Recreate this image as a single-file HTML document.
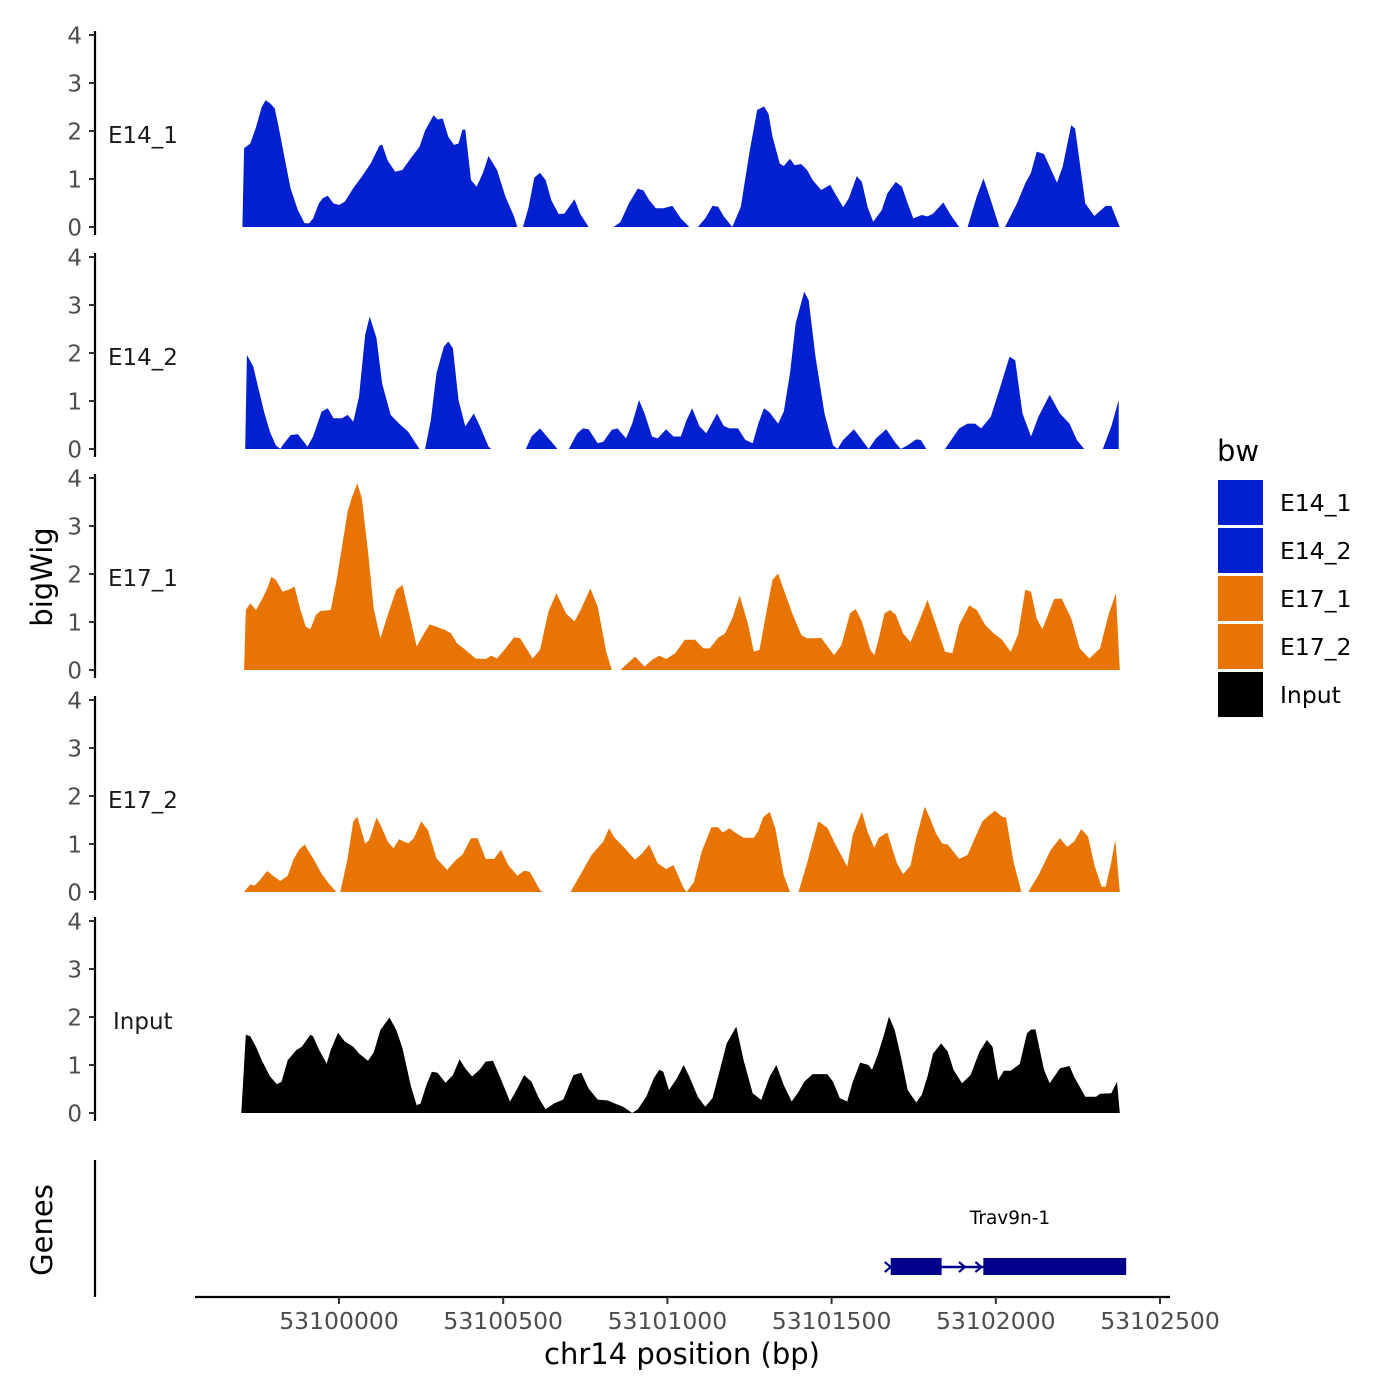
<!DOCTYPE html>
<html><head><meta charset="utf-8"><style>
html,body{margin:0;padding:0;background:#fff;}
svg{display:block;font-family:"DejaVu Sans","Liberation Sans",sans-serif;}
</style></head><body>
<svg id="chart" width="1400" height="1400" viewBox="0 0 1400 1400">
<rect x="0" y="0" width="1400" height="1400" fill="#fff"/>
<g id="tracks"></g>
<g id="genes"></g>
<g id="xaxis"></g>
<text x="52" y="577" transform="rotate(-90 52 577)" text-anchor="middle" font-size="29" fill="#000">bigWig</text>
<text x="52" y="1230" transform="rotate(-90 52 1230)" text-anchor="middle" font-size="29" fill="#000">Genes</text>
<text x="682" y="1364" text-anchor="middle" font-size="29" fill="#000">chr14 position (bp)</text>
<g id="legend"></g>
</svg>
<script>
// Region / positions: offsets in units of POS_UNIT_BP from REGION_START
const REGION_START = 53099668;
const POS_UNIT_BP = 1.7226;

const trackNames = ["E14_1","E14_2","E17_1","E17_2","Input"];
const trackColors = ["#0220CF","#0220CF","#E87503","#E87503","#000000"];
const yTicks = [0,1,2,3,4];
const xTickValues = [53100000,53100500,53101000,53101500,53102000,53102500];
const xTickLabels = ["53100000","53100500","53101000","53101500","53102000","53102500"];

const e14_1_pos = [22,25,36,46,56,63,71,79,86,96,107,120,132,140,147,157,164,173,183,193,203,218,233,249,264,269,279,292,305,320,335,345,360,367,376,386,396,404,411,416,426,436,447,457,472,487,502,508,null,518,528,538,548,558,568,581,591,609,619,634,null,678,690,705,721,731,741,753,766,782,797,812,null,827,840,853,863,873,888,903,919,932,944,952,959,972,979,990,998,1010,1020,1030,1045,1061,1071,1084,1094,1108,1117,1127,1137,1152,1162,1177,1188,1198,1208,1223,1233,1243,1261,1274,1289,null,1304,1320,1332,1345,1360,null,1370,1391,1406,1416,1426,1439,1462,1472,1487,1494,1512,1528,1548,1558,1573];
const e14_1_val = [0,1.64,1.74,2.08,2.5,2.64,2.58,2.47,2.09,1.47,0.81,0.35,0.08,0.08,0.18,0.49,0.6,0.65,0.49,0.46,0.53,0.81,1.05,1.33,1.69,1.72,1.38,1.15,1.19,1.44,1.67,2.01,2.33,2.24,2.26,1.88,1.71,1.74,2.03,2.03,0.98,0.84,1.12,1.48,1.19,0.63,0.22,0,null,0,0.42,1.03,1.13,0.98,0.56,0.27,0.28,0.58,0.28,0,null,0,0.1,0.49,0.8,0.76,0.56,0.39,0.39,0.44,0.18,0,null,0,0.18,0.44,0.42,0.22,0,0.42,1.61,2.44,2.51,2.36,1.88,1.32,1.27,1.42,1.29,1.31,1.19,0.98,0.77,0.88,0.67,0.41,0.6,1.06,0.94,0.42,0.11,0.35,0.7,0.94,0.84,0.49,0.18,0.25,0.22,0.28,0.51,0.25,0,null,0,0.63,1.01,0.56,0,null,0,0.49,0.91,1.13,1.57,1.52,0.92,1.26,2.12,2.05,0.49,0.23,0.44,0.44,0];

const e14_2_pos = [27,30,41,51,61,71,81,89,93,107,120,137,147,162,173,183,198,208,218,228,239,247,259,269,284,299,315,335,345,355,365,378,386,394,404,416,431,442,457,462,null,523,533,548,563,579,null,599,614,624,634,650,660,675,685,700,711,723,733,746,756,771,784,797,807,817,830,842,861,873,883,898,911,924,934,944,954,969,979,990,1000,1015,1023,1035,1051,1066,1074,1084,1103,1117,1129,1142,1160,1177,1186,1198,1213,1221,1231,null,1264,1289,1304,1317,1328,1345,1360,1378,1388,1401,1416,1429,1449,1467,1484,1497,1510,null,1543,1558,1571];
const e14_2_val = [0,1.96,1.72,1.23,0.74,0.35,0.08,0,0.08,0.29,0.31,0.05,0.26,0.78,0.85,0.64,0.64,0.71,0.57,1.09,2.38,2.76,2.31,1.37,0.71,0.53,0.36,0,0,0.6,1.58,2.13,2.24,2.1,1.02,0.47,0.74,0.47,0.05,0,null,0,0.26,0.43,0.22,0,null,0,0.33,0.43,0.41,0.12,0.15,0.4,0.43,0.22,0.53,1.02,0.74,0.26,0.22,0.41,0.26,0.26,0.6,0.85,0.47,0.33,0.74,0.48,0.43,0.43,0.19,0.12,0.53,0.85,0.76,0.53,0.78,1.58,2.62,3.28,3.1,1.92,0.74,0.08,0,0.19,0.41,0.19,0,0.22,0.41,0.12,0,0.08,0.2,0.19,0,null,0,0.43,0.53,0.53,0.43,0.67,1.23,1.92,1.85,0.74,0.26,0.67,1.13,0.74,0.53,0.19,0,null,0,0.47,1.02];

const e17_1_pos = [25,28,36,46,56,66,73,81,93,107,114,124,134,142,152,160,178,188,198,208,215,225,233,244,254,266,279,294,305,320,330,345,353,365,381,391,401,416,434,452,462,472,487,502,513,523,535,548,563,577,594,609,621,637,650,665,675,null,690,716,733,746,759,771,787,804,822,837,848,863,875,888,901,916,926,936,949,959,969,979,995,1010,1020,1035,1045,1068,1081,1096,1106,1117,1132,1139,1147,1157,1167,1177,1190,1203,1218,1233,1248,1264,1277,1289,1307,1320,1335,1350,1365,1380,1393,1406,1416,1426,1436,1446,1457,1470,1487,1502,1519,1538,1553,1566,1573];
const e17_1_val = [0,1.25,1.39,1.25,1.46,1.7,1.94,1.88,1.63,1.69,1.74,1.28,0.9,0.85,1.15,1.23,1.25,1.84,2.57,3.3,3.58,3.89,3.58,2.47,1.28,0.66,1.15,1.67,1.77,1.01,0.49,0.8,0.95,0.9,0.83,0.76,0.56,0.42,0.24,0.23,0.3,0.24,0.45,0.68,0.66,0.47,0.24,0.42,1.22,1.6,1.18,1.01,1.28,1.7,1.32,0.38,0,null,0,0.28,0.07,0.21,0.3,0.23,0.35,0.63,0.63,0.45,0.45,0.67,0.76,1.08,1.55,0.94,0.38,0.42,1.25,1.88,2.01,1.67,1.15,0.73,0.66,0.66,0.67,0.31,0.52,1.18,1.27,1.01,0.42,0.31,0.66,1.18,1.25,1.15,0.76,0.58,1.01,1.46,0.94,0.38,0.35,0.94,1.35,1.25,0.94,0.76,0.63,0.38,0.73,1.67,1.63,1.08,0.85,1.15,1.48,1.49,1.08,0.45,0.24,0.45,1.15,1.6,0];

const e17_2_pos = [25,36,43,51,66,76,89,102,112,122,132,147,162,175,188,null,195,208,218,225,239,246,259,266,279,289,299,315,325,338,350,365,384,398,411,426,438,452,467,479,492,508,520,530,548,553,null,602,619,639,660,670,680,698,716,729,741,756,771,784,802,807,820,834,851,863,871,883,893,908,926,934,942,954,964,979,990,null,1005,1020,1040,1056,1071,1091,1101,1117,1127,1139,1147,1162,1179,1190,1203,1213,1228,1238,1248,1259,1269,1289,1304,1314,1330,1342,1352,1365,1372,1385,1399,null,1411,1429,1451,1467,1480,1492,1505,1517,1528,1541,1548,1558,1565,1573];
const e17_2_val = [0,0.16,0.13,0.22,0.44,0.34,0.23,0.34,0.67,0.88,0.99,0.7,0.38,0.17,0,null,0,0.7,1.47,1.57,1.01,1.08,1.55,1.4,1.05,0.91,1.1,1.01,1.12,1.47,1.29,0.7,0.46,0.65,0.78,1.12,1.12,0.69,0.69,0.88,0.56,0.34,0.44,0.42,0.04,0,null,0,0.35,0.77,1.05,1.33,1.13,0.91,0.67,0.81,0.99,0.6,0.48,0.56,0.08,0,0.2,0.85,1.35,1.35,1.24,1.33,1.24,1.13,1.13,1.27,1.55,1.67,1.33,0.35,0,null,0,0.6,1.47,1.34,0.98,0.53,1.19,1.67,1.26,0.92,1.13,1.24,0.6,0.37,0.55,1.12,1.78,1.52,1.22,1.01,0.99,0.69,0.77,1.05,1.47,1.6,1.69,1.57,1.55,0.63,0,null,0,0.35,0.88,1.12,0.94,1.05,1.31,1.15,0.56,0.11,0.11,0.63,1.08,0];

const input_pos = [20,28,36,46,56,71,83,91,102,117,127,142,147,157,171,178,191,203,218,228,244,254,266,282,294,305,320,330,337,347,357,367,381,394,406,416,428,442,452,465,477,495,508,520,533,546,558,573,589,607,621,634,650,668,682,695,711,721,736,749,759,766,776,790,802,812,827,840,853,863,878,895,908,924,939,954,966,979,993,1005,1015,1030,1056,1066,1078,1091,1101,1114,1129,1135,1145,1155,1165,1175,1186,1198,1213,1223,1233,1243,1257,1269,1279,1294,1309,1325,1338,1348,1358,1368,1380,1396,1409,1416,1424,1439,1449,1467,1484,1492,1512,1531,1538,1558,1568,1573];
const input_val = [0,1.63,1.6,1.38,1.1,0.76,0.6,0.65,1.1,1.31,1.38,1.63,1.6,1.33,1.03,1.31,1.67,1.49,1.38,1.24,1.09,1.26,1.73,1.99,1.73,1.35,0.55,0.16,0.2,0.58,0.86,0.84,0.63,0.79,1.12,0.93,0.76,0.91,1.07,1.09,0.76,0.24,0.51,0.79,0.65,0.31,0.08,0.2,0.28,0.79,0.84,0.51,0.28,0.26,0.19,0.13,0,0.08,0.34,0.72,0.9,0.86,0.48,0.72,1.0,0.76,0.34,0.13,0.31,0.76,1.45,1.8,1.1,0.41,0.27,0.76,1.0,0.58,0.24,0.44,0.65,0.81,0.81,0.65,0.31,0.24,0.65,1.05,1.0,0.9,1.21,1.59,2.01,1.73,1.17,0.48,0.22,0.38,0.76,1.24,1.45,1.28,0.9,0.62,0.79,1.28,1.52,1.38,0.69,0.88,0.88,1.02,1.66,1.74,1.74,0.9,0.62,0.93,0.98,0.76,0.34,0.34,0.4,0.41,0.65,0];

const trackPos = [e14_1_pos,e14_2_pos,e17_1_pos,e17_2_pos,input_pos];
const trackVal = [e14_1_val,e14_2_val,e17_1_val,e17_2_val,input_val];

// Gene model
const geneName = "Trav9n-1";
const geneStart = 53101674, geneEnd = 53102397;
const exonStarts = [53101680, 53101962];
const exonEnds = [53101835, 53102397];
const intronArrows = [53101900, 53101950];

const NS = "http://www.w3.org/2000/svg";
function mk(tag, attrs, parent){const e=document.createElementNS(NS,tag);for(const k in attrs)e.setAttribute(k,attrs[k]);parent.appendChild(e);return e;}
function xScaleBp(bp){return 339 + (bp-53100000)*0.3284;}
function xScale(off){return xScaleBp(REGION_START + off*POS_UNIT_BP);}
const panelBase = [227,449,670,892,1113];
const PX_PER_UNIT = 48;
function yScale(i,v){return panelBase[i] - v*PX_PER_UNIT;}

const tracksG = document.getElementById('tracks');
trackNames.forEach((name,i)=>{
  const g = mk('g',{},tracksG);
  
  
  const ax = mk('line',{x1:95,x2:95,y1:yScale(i,4)-4,y2:yScale(i,0)+8,stroke:'#000','stroke-width':2.2},g);
  
  
  yTicks.forEach(t=>{
    const tk = mk('line',{x1:89,x2:95,y1:yScale(i,t),y2:yScale(i,t),stroke:'#333','stroke-width':2},g);
    
    
    const tl = mk('text',{x:82,y:yScale(i,t)+8.5,'text-anchor':'end','font-size':23,fill:'#4d4d4d'},g);
    
    
    tl.textContent = String(t);
  });
  const lab = mk('text',{x:name==='Input'?113:108,y:yScale(i,2)+12,'font-size':23,fill:'#1a1a1a'},g);
  
  
  lab.textContent = name;
  const pos = trackPos[i], val = trackVal[i];
  let seg = [];
  const segs = [];
  for(let k=0;k<pos.length;k++){
    if(pos[k]===null||val[k]===null){ if(seg.length) segs.push(seg); seg=[]; continue; }
    seg.push([pos[k],val[k]]);
  }
  if(seg.length) segs.push(seg);
  segs.forEach(s=>{
    let d = 'M'+xScale(s[0][0]).toFixed(1)+','+yScale(i,0);
    s.forEach(p=>{ d += 'L'+xScale(p[0]).toFixed(1)+','+yScale(i,p[1]).toFixed(1); });
    d += 'L'+xScale(s[s.length-1][0]).toFixed(1)+','+yScale(i,0)+'Z';
    const a = mk('path',{d:d,fill:trackColors[i]},g);
    
    
  });
});

// Gene track
const gG = document.getElementById('genes');
const gax = mk('line',{x1:95,x2:95,y1:1160,y2:1297,stroke:'#000','stroke-width':2.2},gG);


const gl = mk('line',{x1:xScaleBp(geneStart),x2:xScaleBp(geneEnd),y1:1267,y2:1267,stroke:'#00008B','stroke-width':2.5},gG);


exonStarts.forEach((s,k)=>{
  const r = mk('rect',{x:xScaleBp(s),y:1258,width:xScaleBp(exonEnds[k])-xScaleBp(s),height:17,fill:'#00008B'},gG);
  
  
});
[geneStart].concat(intronArrows).forEach(b=>{
  const x = xScaleBp(b);
  const p = mk('path',{d:'M'+(x-4)+',1262L'+(x+2)+',1267L'+(x-4)+',1272',fill:'none',stroke:'#00008B','stroke-width':2.2},gG);
  
  
});
const gt = mk('text',{x:1010,y:1224,'text-anchor':'middle','font-size':18.5,fill:'#000'},gG);


gt.textContent = geneName;

// X axis
const xG = document.getElementById('xaxis');
const xl = mk('line',{x1:195,x2:1170,y1:1297,y2:1297,stroke:'#000','stroke-width':2.2},xG);


xTickValues.forEach((v,k)=>{
  const x = xScaleBp(v);
  const t = mk('line',{x1:x,x2:x,y1:1297,y2:1304,stroke:'#333','stroke-width':2},xG);
  
  
  const tl = mk('text',{x:x,y:1329,'text-anchor':'middle','font-size':23.5,fill:'#4d4d4d'},xG);
  
  
  tl.textContent = xTickLabels[k];
});

// Legend
const lG = document.getElementById('legend');
const lt = mk('text',{x:1217,y:461,'font-size':29,fill:'#000'},lG);


lt.textContent = 'bw';
trackNames.forEach((n,k)=>{
  const y = 480 + k*48;
  const r = mk('rect',{x:1218,y:y,width:45,height:45,fill:trackColors[k]},lG);
  
  
  const t = mk('text',{x:1280,y:y+31,'font-size':23.5,fill:'#000'},lG);
  
  
  t.textContent = n;
});
</script>
</body></html>
